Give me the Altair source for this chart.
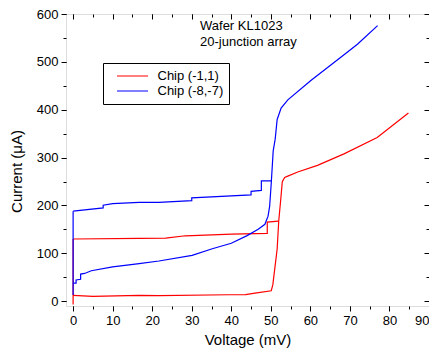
import altair as alt
import pandas as pd

chips = ["Chip (-1,1)", "Chip (-8,-7)"]
colors = ["#ff0000", "#0000ff"]

# Chip (-1,1): jump at V=0, lower (rising) branch, upper (hysteretic) branch
red_jump_v = [0, 0]
red_jump_i = [-7, 130]
red_lower_v = [0, 5, 16.7, 21.7, 39.3, 43.6, 46.0, 50.1, 50.5, 51.0, 51.6, 52.0, 52.5, 52.9, 53.5, 54.3, 56.8, 61.8, 68.5, 76.9, 84.8]
red_lower_i = [12.3, 10.2, 12.3, 11.6, 13.5, 13.8, 17.0, 21.8, 34, 68, 109, 167.5, 212, 249.5, 258.5, 261.2, 270, 283.8, 307.8, 342, 393.2]
red_upper_v = [0, 16.7, 23.4, 28.4, 40.1, 49.1, 49.1, 51.9]
red_upper_i = [130, 131.3, 132, 136.7, 140, 141.6, 165.4, 167.5]

# Chip (-8,-7)
blue_jump_v = [0, 0]
blue_jump_i = [13, 188]
blue_lower_v = [0, 0.75, 0.75, 1.9, 1.9, 2.9, 4.6, 10, 16.7, 21.7, 30.1, 35.2, 40.0, 44.0, 46.8, 48.5, 49.3, 49.7, 50.1, 50.6, 51.1, 51.6, 52.6, 54.3, 60.2, 67.7, 71.9, 77.0]
blue_lower_i = [37.6, 37.6, 44.3, 45.8, 56.7, 58, 63.6, 71.8, 78.6, 84, 95.8, 109.5, 121, 137, 150.4, 160.7, 177.7, 198, 246, 314, 338.6, 379.6, 403.4, 420.7, 461.7, 509.5, 536.8, 575.8]
blue_upper_v = [0, 7.6, 7.6, 10, 16.7, 21.7, 30.0, 30.0, 45.0, 45.0, 47.6, 47.6, 50.2]
blue_upper_i = [188, 195, 200.5, 203.8, 206.5, 206.5, 210, 216, 222, 229.5, 231.5, 251.6, 251.6]

x_ticks = list(range(0, 91, 5))
x_major = list(range(0, 91, 10))
y_ticks = list(range(0, 601, 50))
y_major = list(range(0, 601, 100))

segments = [
    (chips[0], "r_jump", red_jump_v, red_jump_i),
    (chips[0], "r_lower", red_lower_v, red_lower_i),
    (chips[0], "r_upper", red_upper_v, red_upper_i),
    (chips[1], "b_jump", blue_jump_v, blue_jump_i),
    (chips[1], "b_lower", blue_lower_v, blue_lower_i),
    (chips[1], "b_upper", blue_upper_v, blue_upper_i),
]
rows = []
for chip, seg, vs, cs in segments:
    for k, (v, c) in enumerate(zip(vs, cs)):
        rows.append({"chip": chip, "seg": seg, "k": k, "v": v, "c": c})
df = pd.DataFrame(rows)

FONT = "Liberation Sans"
xscale = alt.Scale(domain=[-1.8, 90], nice=False, zero=False)
yscale = alt.Scale(domain=[-10, 600], nice=False, zero=False)

def ax(orient, values, size, labels=False, **kw):
    return alt.Axis(orient=orient, values=values, tickSize=size, labels=labels,
                    domain=False, grid=False, ticks=True, tickColor="black",
                    tickWidth=1, **kw)

lines = alt.Chart(df).mark_line(strokeWidth=1.2).encode(
    x=alt.X("v:Q", scale=xscale,
            axis=ax("bottom", x_major, 5, labels=True, title="Voltage (mV)",
                    labelFontSize=13, labelFont=FONT, labelColor="black",
                    labelPadding=3, labelFlush=False, labelOverlap=False,
                    labelAlign={"condition": {"test": "datum.value >= 90", "value": "right"},
                                "value": "center"},
                    titleFontSize=15, titleFont=FONT, titleFontWeight="normal",
                    titleColor="black", titleBaseline="alphabetic", titleY=38)),
    y=alt.Y("c:Q", scale=yscale,
            axis=ax("left", y_major, 5, labels=True, title="Current (\u03bcA)",
                    labelFontSize=13, labelFont=FONT, labelColor="black",
                    labelPadding=3, labelFlush=False, labelOverlap=False,
                    titleFontSize=15, titleFont=FONT, titleFontWeight="normal",
                    titleColor="black", titleBaseline="alphabetic",
                    titleX=-45, titleY=157, titleAngle=270)),
    color=alt.Color("chip:N", scale=alt.Scale(domain=chips, range=colors),
                    legend=alt.Legend(title=None, orient="none", legendX=37, legendY=49,
                                      padding=5.5, symbolOffset=7.5, labelOffset=8.5,
                                      symbolSize=961, symbolType="stroke",
                                      symbolStrokeWidth=1.2, clipHeight=15, rowPadding=0,
                                      strokeColor="black", fillColor="white",
                                      labelFontSize=13, labelFont=FONT, labelColor="black",
                                      labelExpr="datum.label + '\u00a0\u00a0\u00a0\u00a0\u00a0'")),
    detail="seg:N",
    order="k:Q",
)

def ghost(xaxis, yaxis):
    return alt.Chart(df).mark_line(opacity=0).encode(
        x=alt.X("v:Q", scale=xscale, axis=xaxis, title=None),
        y=alt.Y("c:Q", scale=yscale, axis=yaxis, title=None),
        detail="seg:N", order="k:Q")

g1 = ghost(ax("bottom", x_ticks, 3), ax("left", y_ticks, 3))
g2 = ghost(ax("top", x_major, alt.ExprRef("-5")), ax("right", y_major, alt.ExprRef("-5")))
g3 = ghost(ax("top", x_ticks, alt.ExprRef("-3")), ax("right", y_ticks, alt.ExprRef("-3")))

note = alt.Chart(pd.DataFrame({"n": [0]})).mark_text(
    text=["Wafer KL1023", "20-junction array"], align="left", baseline="alphabetic",
    fontSize=13, font=FONT, color="black", lineHeight=16,
).encode(x=alt.value(134), y=alt.value(16))

chart = alt.layer(lines, g1, g2, g3, note).resolve_axis(
    x="independent", y="independent"
).properties(
    width=363, height=292,
    autosize=alt.AutoSizeParams(type="none"),
    padding={"left": 58, "top": 6, "right": 0, "bottom": 42},
).configure_view(stroke="#333333", strokeWidth=1.5).configure(font=FONT)

chart.save("out.html", embed_options={"renderer": "svg", "actions": False})
